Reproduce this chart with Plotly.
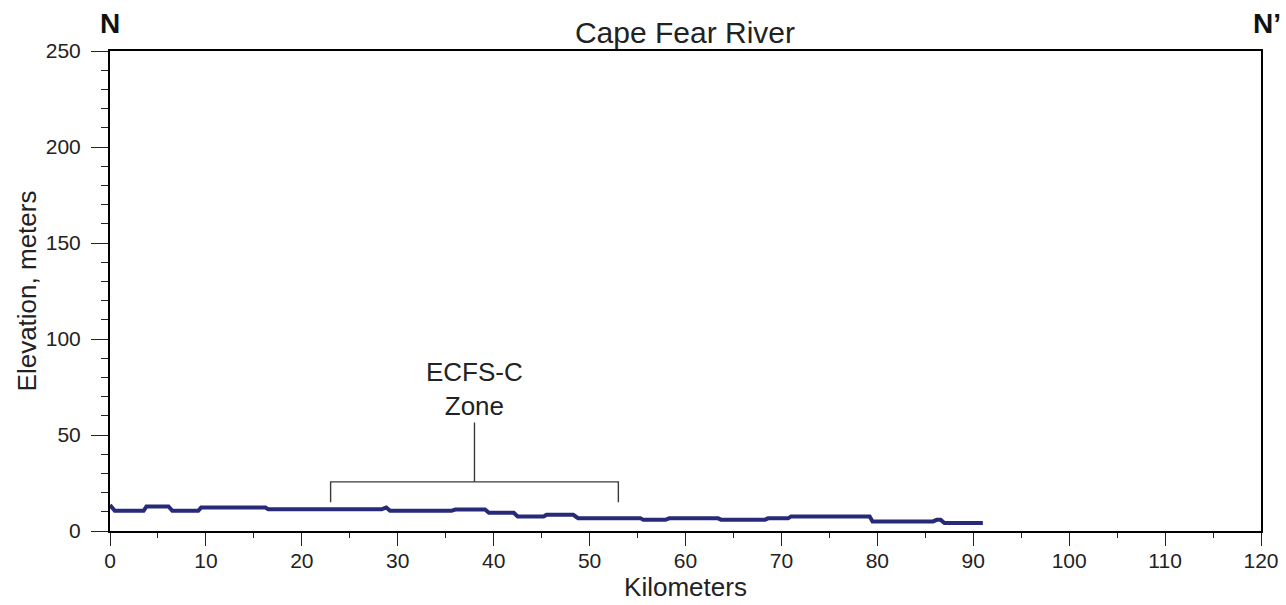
import plotly.graph_objects as go

# Profile (km, elevation m)
km = [0.0, 0.5, 3.5, 3.8, 6.1, 6.5, 9.2, 9.5, 16.2, 16.5, 28.3, 28.8, 29.2, 35.6, 36.0,
      39.1, 39.5, 42.1, 42.5, 45.2, 45.5, 48.3, 48.8, 55.3, 55.6, 57.9, 58.3, 63.4, 63.7,
      68.3, 68.6, 70.7, 71.0, 79.2, 79.5, 85.8, 86.2, 86.6, 87.0, 91.0]
elev = [13.5, 10.5, 10.5, 12.8, 12.8, 10.5, 10.5, 12.2, 12.2, 11.3, 11.3, 12.2, 10.5, 10.5, 11.2,
        11.2, 9.5, 9.5, 7.6, 7.6, 8.4, 8.4, 6.7, 6.7, 5.8, 5.8, 6.6, 6.6, 5.9,
        5.9, 6.6, 6.6, 7.6, 7.6, 5.0, 5.0, 5.8, 5.8, 4.2, 4.2]

x_ticks = [0, 10, 20, 30, 40, 50, 60, 70, 80, 90, 100, 110, 120]
y_ticks = [0, 50, 100, 150, 200, 250]

zone_left, zone_right, zone_mid = 23, 53, 38
bracket_base, bracket_bar, bracket_top = 15, 25.6, 56.5
zone_label_y = 74

FONT = "Liberation Sans, Arial, sans-serif"
W, H = 1286, 605

fig = go.Figure()
fig.add_trace(go.Scatter(x=km, y=elev, mode="lines",
                         line=dict(color="#272a78", width=4), showlegend=False,
                         hoverinfo="skip"))

# bracket for ECFS-C zone
fig.add_trace(go.Scatter(
    x=[zone_left, zone_left, zone_right, zone_right, None, zone_mid, zone_mid],
    y=[bracket_base, bracket_bar, bracket_bar, bracket_base, None, bracket_bar, bracket_top],
    mode="lines", line=dict(color="#3a3a3a", width=1.4), showlegend=False, hoverinfo="skip"))

fig.add_annotation(x=zone_mid, y=zone_label_y, text="ECFS-C<br>Zone", showarrow=False,
                   font=dict(family=FONT, size=26, color="#222222"), align="center",
                   yanchor="middle")

fig.add_annotation(xref="paper", yref="paper", x=0.0, y=1.0, yshift=28, xanchor="center",
                   yanchor="middle", text="<b>N</b>", showarrow=False,
                   font=dict(family=FONT, size=28, color="#111111"))
fig.add_annotation(xref="paper", yref="paper", x=1.0, y=1.0, yshift=28, xshift=6,
                   xanchor="center", yanchor="middle", text="<b>N’</b>", showarrow=False,
                   font=dict(family=FONT, size=28, color="#111111"))

fig.update_layout(
    width=W, height=H,
    margin=dict(l=110, r=25, t=51, b=74, autoexpand=False),
    paper_bgcolor="white", plot_bgcolor="white",
    title=dict(text="Cape Fear River", x=685 / W, xanchor="center",
               y=1 - 32 / H, yanchor="middle",
               font=dict(family=FONT, size=30, color="#222222")),
    font=dict(family=FONT, color="#222222"),
)
fig.update_xaxes(range=[0, 120], tickvals=x_ticks, ticks="outside", ticklen=13, tickwidth=1.2,
                 tickcolor="#222222", showline=True, linecolor="black", linewidth=2, mirror=True,
                 showgrid=False, zeroline=False, ticklabeloverflow="allow", ticklabelstandoff=-3,
                 automargin=False,
                 minor=dict(dtick=5, tick0=0, ticks="outside", ticklen=5, tickcolor="#222222"),
                 tickfont=dict(size=21, family=FONT),
                 title=dict(text="Kilometers", font=dict(size=26, family=FONT), standoff=6))
fig.update_yaxes(range=[0, 250], tickvals=y_ticks, ticks="outside", ticklen=17, tickwidth=1.2,
                 tickcolor="#222222", showline=True, linecolor="black", linewidth=2, mirror=True,
                 showgrid=False, zeroline=False, ticklabelstandoff=6, automargin=False,
                 minor=dict(dtick=10, tick0=0, ticks="outside", ticklen=7, tickcolor="#222222"),
                 tickfont=dict(size=21, family=FONT),
                 title=dict(text="Elevation, meters", font=dict(size=26, family=FONT), standoff=2))

fig.write_html("out.html", config={"displayModeBar": False},
               post_script="document.body.style.margin='0';document.body.style.overflow='hidden';")
